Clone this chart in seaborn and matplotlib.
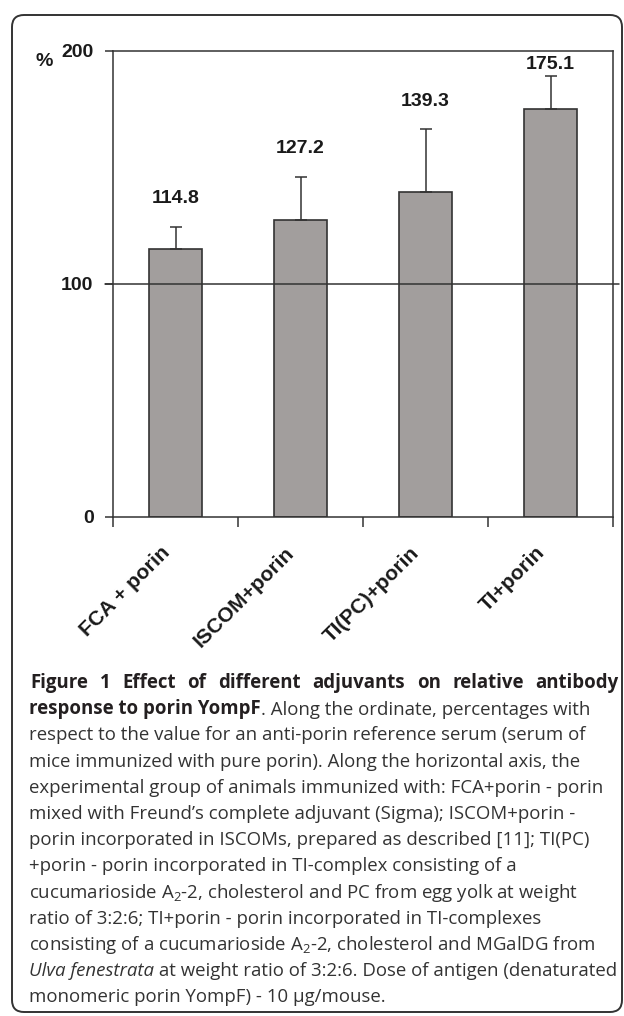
import numpy as np
import pandas as pd
import matplotlib
matplotlib.use('Agg')
import matplotlib.pyplot as plt
import matplotlib.transforms as mtransforms
import seaborn as sns
from matplotlib.patches import FancyBboxPatch

# data
groups = ['FCA + porin', 'ISCOM+porin', 'TI(PC)+porin', 'TI+porin']
means = [114.8, 127.2, 139.3, 175.1]
err_up = [9.7, 18.8, 27.2, 14.2]
yticks = [0, 100, 200]
ref_level = 100

sns.set_theme(style='ticks')
plt.rcParams['font.family'] = ['Liberation Sans', 'DejaVu Sans']
plt.rcParams['mathtext.fontset'] = 'custom'
plt.rcParams['mathtext.rm'] = 'Open Sans'
plt.rcParams['mathtext.it'] = 'Open Sans:italic'
plt.rcParams['mathtext.bf'] = 'Open Sans:bold'

W, H = 624, 1016
fig = plt.figure(figsize=(W / 100, H / 100), dpi=100)
ax = fig.add_axes([113 / W, 1 - 516.5 / H, (613 - 113) / W, (516.5 - 51) / H])

df = pd.DataFrame({'group': groups, 'value': means})
sns.barplot(data=df, x='group', y='value', color='#a29e9d', saturation=1,
            width=0.42, edgecolor='#333333', linewidth=1.2, errorbar=None, ax=ax)
ax.errorbar(np.arange(len(groups)), means, yerr=[np.zeros(len(groups)), err_up],
            fmt='none', ecolor='#333333', elinewidth=1.1, capsize=4.5, capthick=1.1, zorder=3)

# value labels above the error bars
for i, (m, e) in enumerate(zip(means, err_up)):
    ax.text(i, min(m + e + 12, 194), f'{m:.1f}', ha='center', va='center',
            fontsize=14, fontweight='bold', color='#1a1a1a')

# reference line at 100 %
ax.axhline(ref_level, xmin=-0.016, xmax=1.012, clip_on=False, color='#333333', lw=1.1, zorder=4)

ax.set_xlim(-0.5, len(groups) - 0.5)
ax.set_ylim(0, 200)
ax.set_yticks(yticks)
ax.set_yticklabels([str(t) for t in yticks], fontsize=14, fontweight='bold', color='#1a1a1a')
ax.tick_params(axis='y', length=6, width=1.1, color='#333333', pad=8)
ax.set_xticks(range(len(groups)))
ax.set_xticklabels(groups, rotation=45, ha='right', va='center', rotation_mode='anchor',
                   fontsize=15, fontweight='bold', color='#1a1a1a')
ax.tick_params(axis='x', which='major', length=0, pad=24)
shift = mtransforms.ScaledTranslation(-0.09, 0, fig.dpi_scale_trans)
for lbl in ax.get_xticklabels():
    lbl.set_transform(lbl.get_transform() + shift)
ax.set_xticks(np.arange(-0.5, len(groups)), minor=True)
ax.tick_params(axis='x', which='minor', length=7, width=1.1, color='#333333')
ax.set_xlabel('')
ax.set_ylabel('')
for s in ax.spines.values():
    s.set_color('#333333')
    s.set_linewidth(1.1)

fig.text(44 / W, 1 - 61 / H, '%', ha='center', va='center', fontsize=14,
         fontweight='bold', color='#1a1a1a')

# caption
cap_font = 'Open Sans'
fs = 13.4
x0 = 29 / W
ys = [683 + 26.2 * k for k in range(13)]


def base(k):
    return 1 - (ys[k] + 5) / H


dark = '#231f20'
grey = '#333333'
renderer = fig.canvas.get_renderer()

# first caption line is justified to the right edge
words = 'Figure 1 Effect of different adjuvants on relative antibody'.split()
wt = [fig.text(0, base(0), w, family=cap_font, fontsize=fs, fontweight='bold',
               color=dark, va='baseline') for w in words]
widths = [t.get_window_extent(renderer).width for t in wt]
gap = (619 - 30 - sum(widths)) / (len(words) - 1)
xpos = 30
for t, w in zip(wt, widths):
    t.set_x(xpos / W)
    xpos += w + gap

t = fig.text(x0, base(1), 'response to porin YompF', family=cap_font, fontsize=fs,
             fontweight='bold', color=dark, va='baseline')
ax.annotate('. Along the ordinate, percentages with', xy=(1, 0), xycoords=t, va='bottom',
            family=cap_font, fontsize=fs, color=grey, annotation_clip=False)
plain = [
    'respect to the value for an anti-porin reference serum (serum of',
    'mice immunized with pure porin). Along the horizontal axis, the',
    'experimental group of animals immunized with: FCA+porin - porin',
    'mixed with Freund\u2019s complete adjuvant (Sigma); ISCOM+porin -',
    'porin incorporated in ISCOMs, prepared as described [11]; TI(PC)',
    '+porin - porin incorporated in TI-complex consisting of a',
    'cucumarioside A$_{\\mathregular{2}}$-2, cholesterol and PC from egg yolk at weight',
    'ratio of 3:2:6; TI+porin - porin incorporated in TI-complexes',
    'consisting of a cucumarioside A$_{\\mathregular{2}}$-2, cholesterol and MGalDG from',
]
for k, line in enumerate(plain):
    fig.text(x0, base(k + 2), line, family=cap_font, fontsize=fs, color=grey, va='baseline')
t = fig.text(x0, base(11), 'Ulva fenestrata', family=cap_font, fontsize=fs,
             style='italic', color=grey, va='baseline')
ax.annotate(' at weight ratio of 3:2:6. Dose of antigen (denaturated', xy=(1, 0), xycoords=t,
            va='bottom', family=cap_font, fontsize=fs, color=grey, annotation_clip=False)
fig.text(x0, base(12), 'monomeric porin YompF) - 10 \u00b5g/mouse.', family=cap_font,
         fontsize=fs, color=grey, va='baseline')

# rounded frame around the whole figure
frame = FancyBboxPatch((12, 4), 610, 997, boxstyle='round,pad=0,rounding_size=12',
                       transform=None, fill=False, edgecolor='#333333', linewidth=1.4)
fig.patches.append(frame)

fig.savefig('out.png', dpi=100)
